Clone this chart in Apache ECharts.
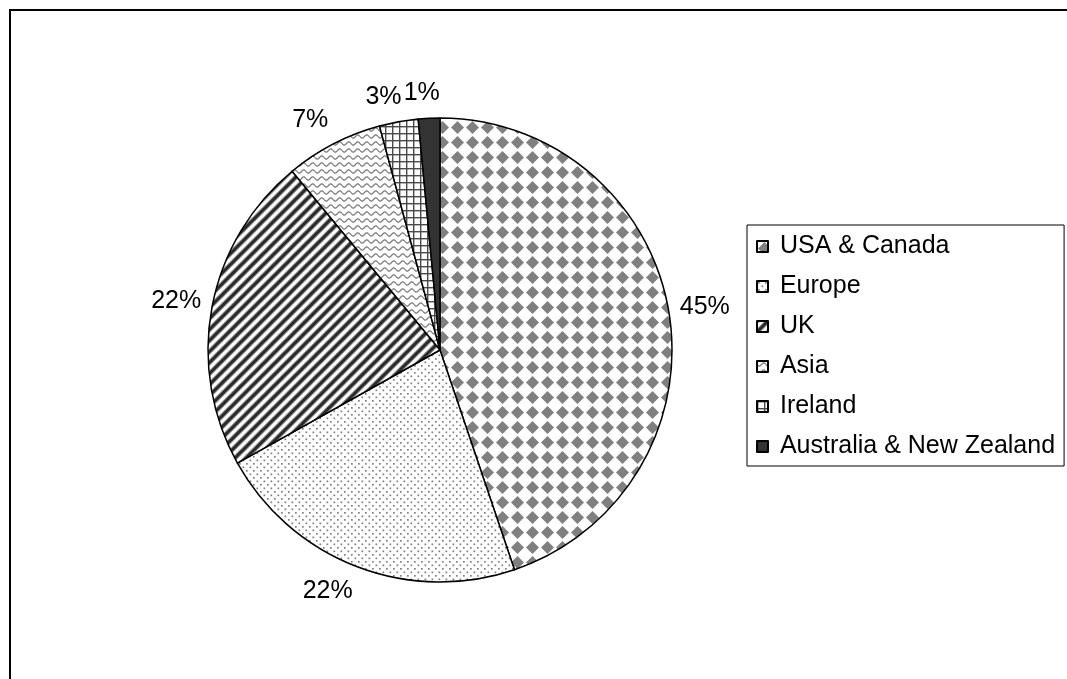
<!DOCTYPE html>
<html>
<head>
<meta charset="utf-8">
<script src="https://cdn.jsdelivr.net/npm/echarts@6/dist/echarts.min.js"></script>
<style>
  html, body { margin: 0; padding: 0; background: #fff; }
  #main { width: 1067px; height: 679px; }
</style>
</head>
<body>
<div id="main"></div>
<script>
// regions and their share (percent)
var regions = ['USA & Canada', 'Europe', 'UK', 'Asia', 'Ireland', 'Australia & New Zealand'];
var shares = [44.8, 22.1, 22.1, 6.8, 2.7, 1.5];

var CX = 440, CY = 350, R = 232;

// little canvas tiles for the Excel-like fill patterns
function tile(w, h, draw) {
    var c = document.createElement('canvas');
    c.width = w; c.height = h;
    var g = c.getContext('2d');
    g.fillStyle = '#fff';
    g.fillRect(0, 0, w, h);
    draw(g, w, h);
    return {image: c, repeat: 'repeat'};
}

function diag(g, w, h) {
    g.beginPath();
    g.moveTo(-1, h + 1); g.lineTo(w + 1, -1);
    g.moveTo(-w / 2 - 1, h / 2 + 1); g.lineTo(w / 2 + 1, -h / 2 - 1);
    g.moveTo(w / 2 - 1, h * 1.5 + 1); g.lineTo(w * 1.5 + 1, h / 2 - 1);
    g.stroke();
}

var fills = [
    // grey diamonds
    tile(15, 15, function (g) {
        g.fillStyle = '#808080';
        g.beginPath();
        g.moveTo(7.5, 1); g.lineTo(14, 7.5); g.lineTo(7.5, 14); g.lineTo(1, 7.5);
        g.closePath(); g.fill();
    }),
    // fine dots
    tile(7, 7, function (g) {
        g.fillStyle = '#808080';
        g.fillRect(1, 1, 1.7, 1.7);
        g.fillRect(4.5, 4.5, 1.7, 1.7);
    }),
    // wide diagonal stripes, soft edges
    tile(11, 11, function (g, w, h) {
        g.strokeStyle = '#9a9a9a';
        g.lineWidth = 5;
        diag(g, w, h);
        g.strokeStyle = '#2a2a2a';
        g.lineWidth = 3;
        diag(g, w, h);
    }),
    // waves
    tile(9, 7, function (g) {
        g.strokeStyle = '#7a7a7a';
        g.lineWidth = 1.2;
        g.beginPath();
        for (var x = 0; x <= 9; x += 0.5) {
            var y = 3.5 + 1.6 * Math.sin(x / 9 * Math.PI * 2);
            if (x === 0) g.moveTo(x, y); else g.lineTo(x, y);
        }
        g.stroke();
    }),
    // grid
    tile(7, 7, function (g) {
        g.fillStyle = '#4a4a4a';
        g.fillRect(0, 0, 7, 1.4);
        g.fillRect(0, 0, 1.4, 7);
    }),
    '#333333'
];

var total = shares.reduce(function (a, b) { return a + b; }, 0);
var midAngles = [];
var acc = 0;
shares.forEach(function (v) {
    midAngles.push((acc + v / 2) / total * Math.PI * 2);
    acc += v;
});

var myChart = echarts.init(document.getElementById('main'));

var option = {
    animation: false,
    textStyle: {fontFamily: 'Liberation Sans, Arial, sans-serif'},
    graphic: [{
        type: 'rect',
        shape: {x: 10, y: 10, width: 1100, height: 700},
        style: {fill: 'none', stroke: '#000', lineWidth: 2}
    }],
    legend: {
        orient: 'vertical',
        left: 747,
        top: 225,
        padding: [9, 9, 7, 9],
        itemGap: 15,
        itemWidth: 11,
        itemHeight: 11,
        borderColor: '#000',
        borderWidth: 1,
        icon: 'rect',
        formatter: function (n) { return ' ' + n; },
        textStyle: {fontSize: 25, lineHeight: 25, color: '#000'},
        data: regions
    },
    series: [{
        type: 'pie',
        center: [CX, CY],
        radius: R,
        startAngle: 90,
        avoidLabelOverlap: false,
        itemStyle: {borderColor: '#000', borderWidth: 1.5},
        label: {
            show: true,
            position: 'outside',
            formatter: '{d}%',
            fontSize: 25,
            color: '#000'
        },
        percentPrecision: 0,
        labelLine: {show: false},
        emphasis: {disabled: true},
        // Excel-style: label sits just outside the rim along the slice's mid angle
        labelLayout: function (p) {
            var a = midAngles[p.dataIndex];
            var dx = Math.sin(a), dy = -Math.cos(a);
            var w = p.labelRect.width;
            var d = R + 11;
            var sx = (dx < 0 ? -1 : 1) * Math.sqrt(Math.min(1, Math.abs(dx) * 3));
            var sy = (dy < 0 ? -1 : 1) * Math.min(1, Math.abs(dy) * 1.5);
            return {
                x: CX + dx * d + sx * w / 2,
                y: CY + dy * d + sy * 14,
                align: 'center',
                verticalAlign: 'middle'
            };
        },
        data: regions.map(function (n, i) {
            return {name: n, value: shares[i], itemStyle: {color: fills[i]}};
        })
    }]
};

myChart.setOption(option);
</script>
</body>
</html>
